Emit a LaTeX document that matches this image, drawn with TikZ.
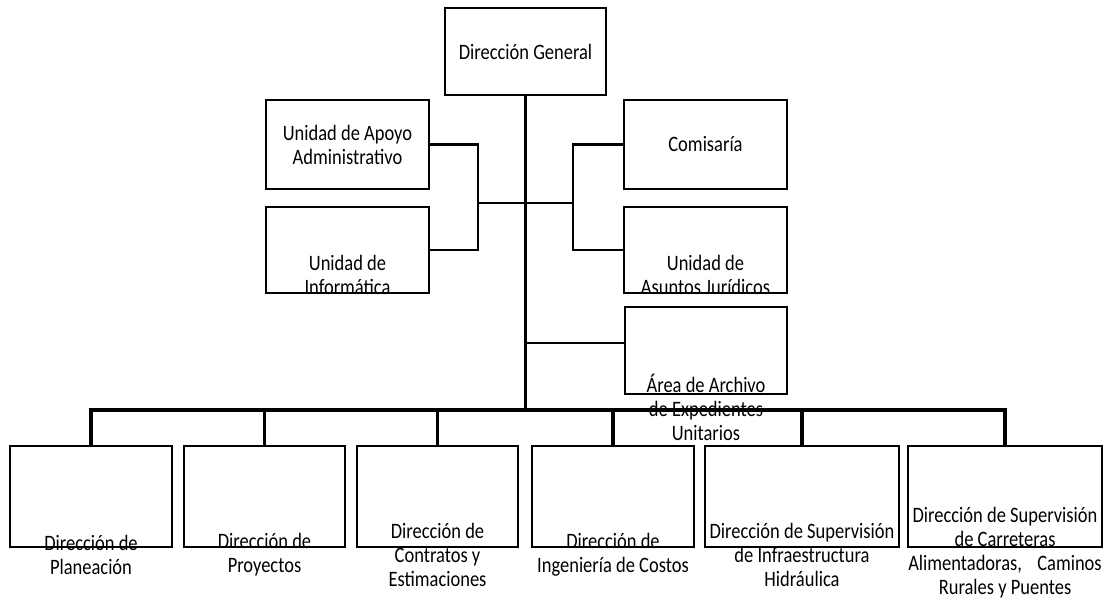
\documentclass[tikz,border=0pt]{standalone}
\usepackage{fontspec}
\setmainfont{Carlito}[FakeStretch=0.84]
\begin{document}
\begin{tikzpicture}[x=1pt,y=-1pt,
  box/.style={draw=black,line width=2.5pt,rectangle,inner sep=0pt,minimum height=87pt},
  lbl/.style={inner sep=0pt,align=center,font=\fontsize{22}{24}\selectfont},
  conn/.style={line width=2.5pt,line cap=rect},
  mainline/.style={line width=3.6pt,line cap=rect}]
\useasboundingbox (0,0) rectangle (1106,599);
% labels placed under the borders
\node[lbl] (tinfo) at (347.5,275) {Unidad de\\Informática};
\node[lbl] (tjur) at (705.5,275) {Unidad de\\Asuntos Jurídicos};
\node[lbl] (tarch) at (706,407.5) {Área de Archivo\\de Expedientes\\Unitarios};
\node[lbl] (tb1) at (91,554.5) {Dirección de\\Planeación};
\node[lbl] (tb2) at (264.5,554.5) {Dirección de\\Proyectos};
\node[lbl] (tb3) at (437.5,554.5) {Dirección de\\Contratos y\\Estimaciones};
\node[lbl] (tb4) at (613,554.5) {Dirección de\\Ingeniería de Costos};
\node[lbl] (tb5) at (802,554.5) {Dirección de Supervisión\\de Infraestructura\\Hidráulica};
\node[lbl] (tb6) at (1005,552.5) {Dirección de Supervisión\\de Carreteras\\Alimentadoras,\hspace{0.7em}Caminos\\Rurales y Puentes};
% boxes
\node[box,lbl,minimum width=161pt] (dg) at (525.5,51.5) {Dirección General};
\node[box,lbl,minimum width=163pt,minimum height=89pt] (apoyo) at (347.5,144.5) {Unidad de Apoyo\\Administrativo};
\node[box,minimum width=163pt,minimum height=86pt] (info) at (347.5,250) {};
\node[box,lbl,minimum width=163pt,minimum height=89pt] (comis) at (705.5,144.5) {Comisaría};
\node[box,minimum width=163pt,minimum height=86pt] (jur) at (705.5,250) {};
\node[box,minimum width=162pt] (arch) at (706,350.5) {};
\node[box,minimum width=162pt,minimum height=101pt] (b1) at (91,496.5) {};
\node[box,minimum width=161pt,minimum height=101pt] (b2) at (264.5,496.5) {};
\node[box,minimum width=161pt,minimum height=101pt] (b3) at (437.5,496.5) {};
\node[box,minimum width=162pt,minimum height=101pt] (b4) at (613,496.5) {};
\node[box,minimum width=194pt,minimum height=101pt] (b5) at (802,496.5) {};
\node[box,minimum width=194pt,minimum height=101pt] (b6) at (1005,496.5) {};
% junctions
\coordinate (jl) at (478,203);
\coordinate (jr) at (573,203);
\coordinate (ja) at (525.5,343);
\coordinate (bus) at (525.5,410);
% connectors
\draw[conn] (apoyo.east) -| (jl) |- (info.east);
\draw[conn] (comis.west) -| (jr) |- (jur.west);
\draw[conn] (jl) -- (jr);
\draw[conn] (ja) -- (ja -| arch.west);
\draw[mainline] (dg.south) -- (bus);
\draw[mainline] (b1.north |- bus) -- (b6.north |- bus);
\foreach \b in {b1,b2,b3,b4,b5,b6}
  \draw[mainline,line cap=butt] (\b.north |- bus) -- (\b.north);
\end{tikzpicture}
\end{document}
